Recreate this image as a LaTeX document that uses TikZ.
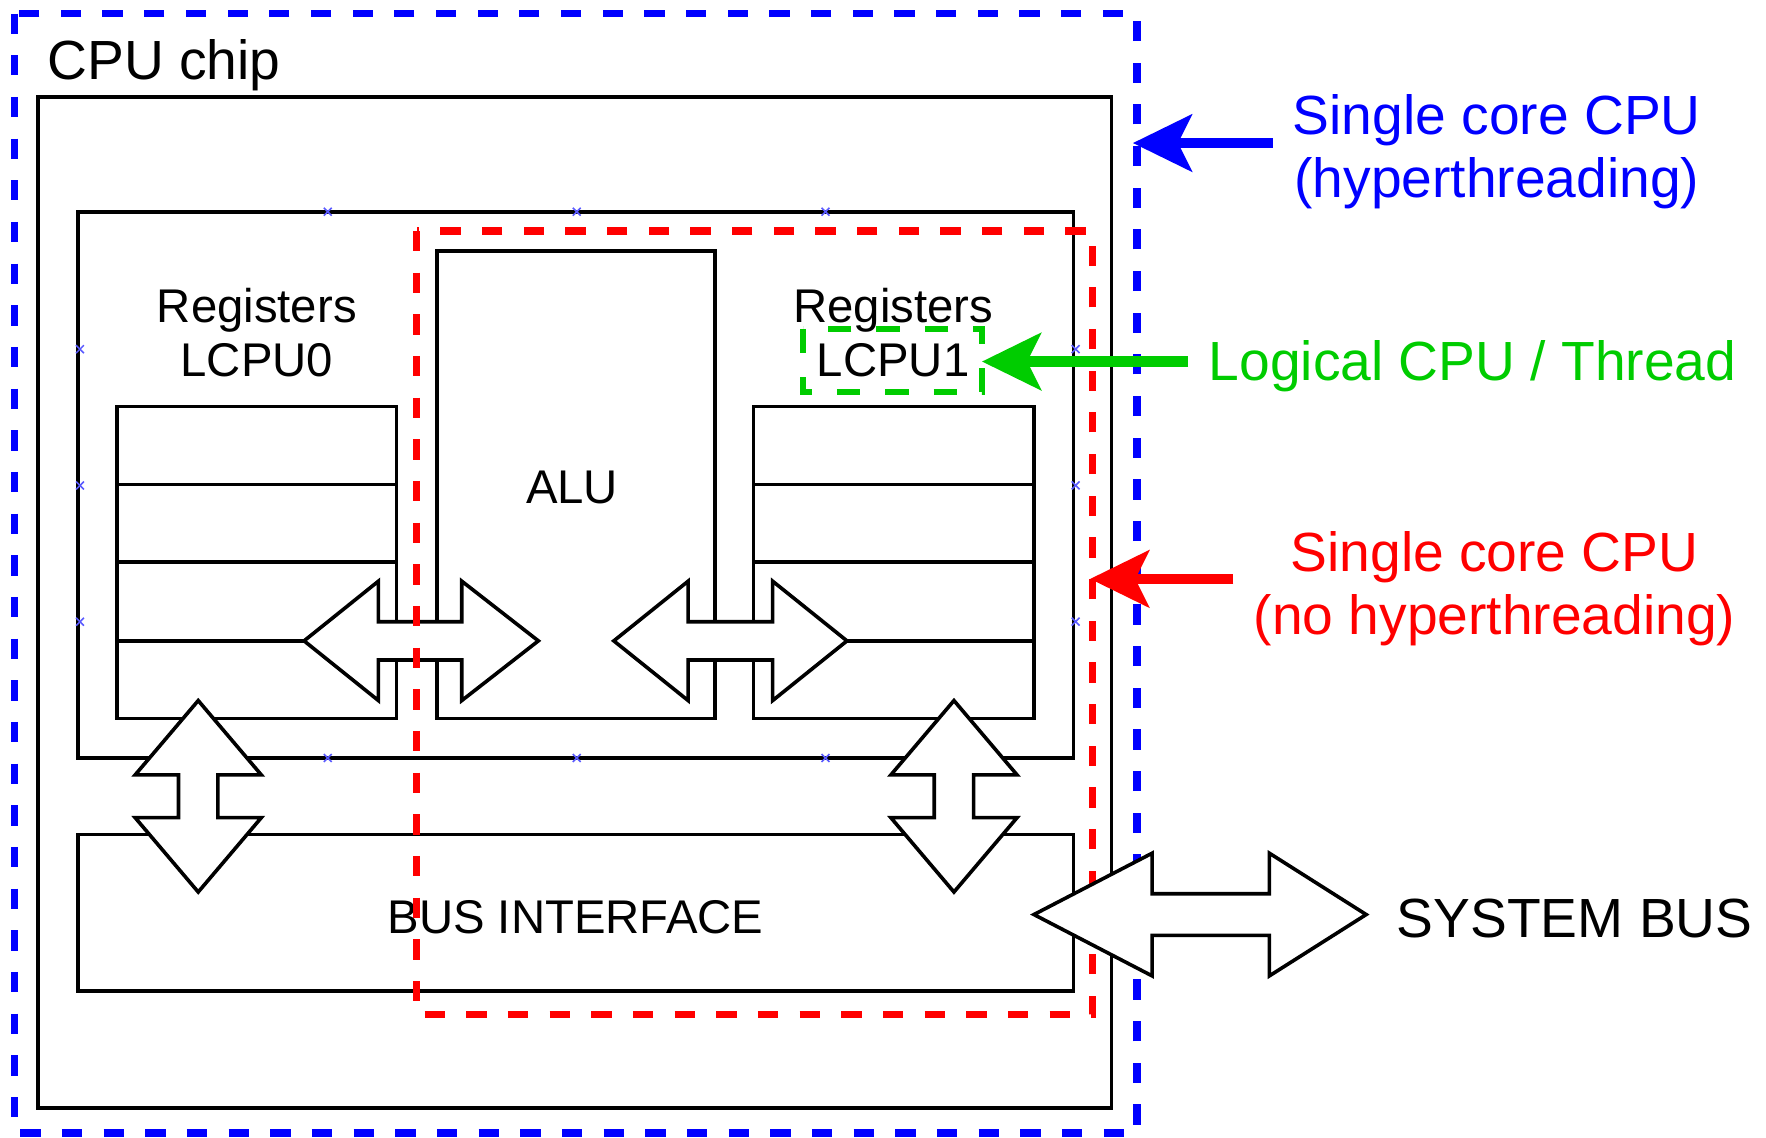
\documentclass[tikz,border=0pt]{standalone}
\usepackage{fontspec}
\setmainfont{Liberation Sans}
\usetikzlibrary{arrows.meta}
\definecolor{dblue}{RGB}{0,0,255}
\definecolor{dred}{RGB}{255,0,0}
\definecolor{dgreen}{RGB}{0,204,0}
\definecolor{mkblue}{RGB}{90,90,255}
\begin{document}
\begin{tikzpicture}[x=1pt,y=-1pt,
  box/.style={draw=black,line width=3.2pt},
  blk/.style={draw=black,fill=white,line width=3.2pt,line join=miter},
  bluedash/.style={draw=dblue,line width=6.5pt,dash pattern=on 18pt off 19pt},
  reddash/.style={draw=dred,line width=6.5pt,dash pattern=on 18pt off 19pt},
  greendash/.style={draw=dgreen,line width=5.5pt,dash pattern=on 21pt off 22pt},
  xmarker/.style={draw=mkblue,line width=1.4pt},
  txt/.style={inner sep=0pt,anchor=base,font=\fontsize{42}{48}\selectfont},
  bigtxt/.style={inner sep=0pt,font=\fontsize{49}{56}\selectfont},
  colarrow/.style={line width=9pt,-{Stealth[length=53pt,width=52pt,inset=13pt,line width=0pt]}}
]
\useasboundingbox (0,0) rectangle (1568,1010);

% black boxes
\draw[box] (34,86) rectangle (987,984);
\draw[box] (69,188) rectangle (953,673);
\draw[box] (104,361) rectangle (352,638);
\draw[box] (104,430) -- (352,430) (104,499) -- (352,499) (104,569) -- (352,569);
\draw[box] (669,361) rectangle (918,638);
\draw[box] (669,430) -- (918,430) (669,499) -- (918,499) (669,569) -- (918,569);
\draw[box] (388,223) rectangle (635,638);
\draw[box] (69,741) rectangle (953,880);

% connection markers
\foreach \px/\py in {291/188,512/188,733/188,291/673,512/673,733/673,71/310,71/431,71/552,955/310,955/431,955/552}
  \draw[xmarker] (\px-3.5,\py-3.5) -- (\px+3.5,\py+3.5) (\px-3.5,\py+3.5) -- (\px+3.5,\py-3.5);

% texts inside
\node[inner sep=0pt,anchor=base west,font=\fontsize{49}{56}\selectfont] (chip) at (42,71) {CPU chip};
\node[txt] (reg0a) at (228,286) {Registers};
\node[txt] (reg0b) at (228,334.5) {LCPU0};
\node[txt] (reg1a) at (793,286) {Registers};
\node[txt] (reg1b) at (793,334.5) {LCPU1};
\node[txt] (alu) at (508,447) {ALU};
\node[txt,font=\fontsize{42}{48}\selectfont] (bus) at (511,829) {BUS INTERFACE};

% block arrows
\draw[blk] (270,569) -- (336,516) -- (336,552) -- (410,552) -- (410,516) -- (478,569) -- (410,622) -- (410,586) -- (336,586) -- (336,622) -- cycle;
\draw[blk] (545,569) -- (611,516) -- (611,552) -- (686,552) -- (686,516) -- (752,569) -- (686,622) -- (686,586) -- (611,586) -- (611,622) -- cycle;
\draw[blk] (176,622) -- (232,688) -- (193.5,688) -- (193.5,726) -- (232,726) -- (176,792) -- (120,726) -- (158.5,726) -- (158.5,688) -- (120,688) -- cycle;
\draw[blk] (847,622) -- (903,688) -- (864.5,688) -- (864.5,726) -- (903,726) -- (847,792) -- (791,726) -- (829.5,726) -- (829.5,688) -- (791,688) -- cycle;

% dashed outlines
\draw[reddash] (370,205) rectangle (970,901);
\draw[greendash] (713,292) rectangle (872,348);
\draw[bluedash] (13,12) rectangle (1009.5,1006);

% system bus arrow
\draw[blk] (918,812) -- (1023,757.5) -- (1023,793.5) -- (1127,793.5) -- (1127,757.5) -- (1213,812) -- (1127,866.5) -- (1127,830.5) -- (1023,830.5) -- (1023,866.5) -- cycle;
\node[bigtxt,anchor=base west] (sysbus) at (1240,832) {SYSTEM BUS};

% labels and arrows
\node[bigtxt,text=dblue,align=center,anchor=base] (bluelbl) at (1329,175) {Single core CPU\\(hyperthreading)};
\node[bigtxt,text=dgreen,anchor=base west] (greenlbl) at (1073,338) {Logical CPU / Thread};
\node[bigtxt,text=dred,align=center,anchor=base] (redlbl) at (1327,563) {Single core CPU\\(no hyperthreading)};

\coordinate (bluefrom) at (1130,127);
\coordinate (bluetip) at (1006,127);
\coordinate (greenfrom) at (1055,321);
\coordinate (greentip) at (872,321);
\coordinate (redfrom) at (1095,514);
\coordinate (redtip) at (968,514);
\draw[colarrow,dblue] (bluefrom) -- (bluetip);
\draw[colarrow,dgreen] (greenfrom) -- (greentip);
\draw[colarrow,dred] (redfrom) -- (redtip);
\end{tikzpicture}
\end{document}
